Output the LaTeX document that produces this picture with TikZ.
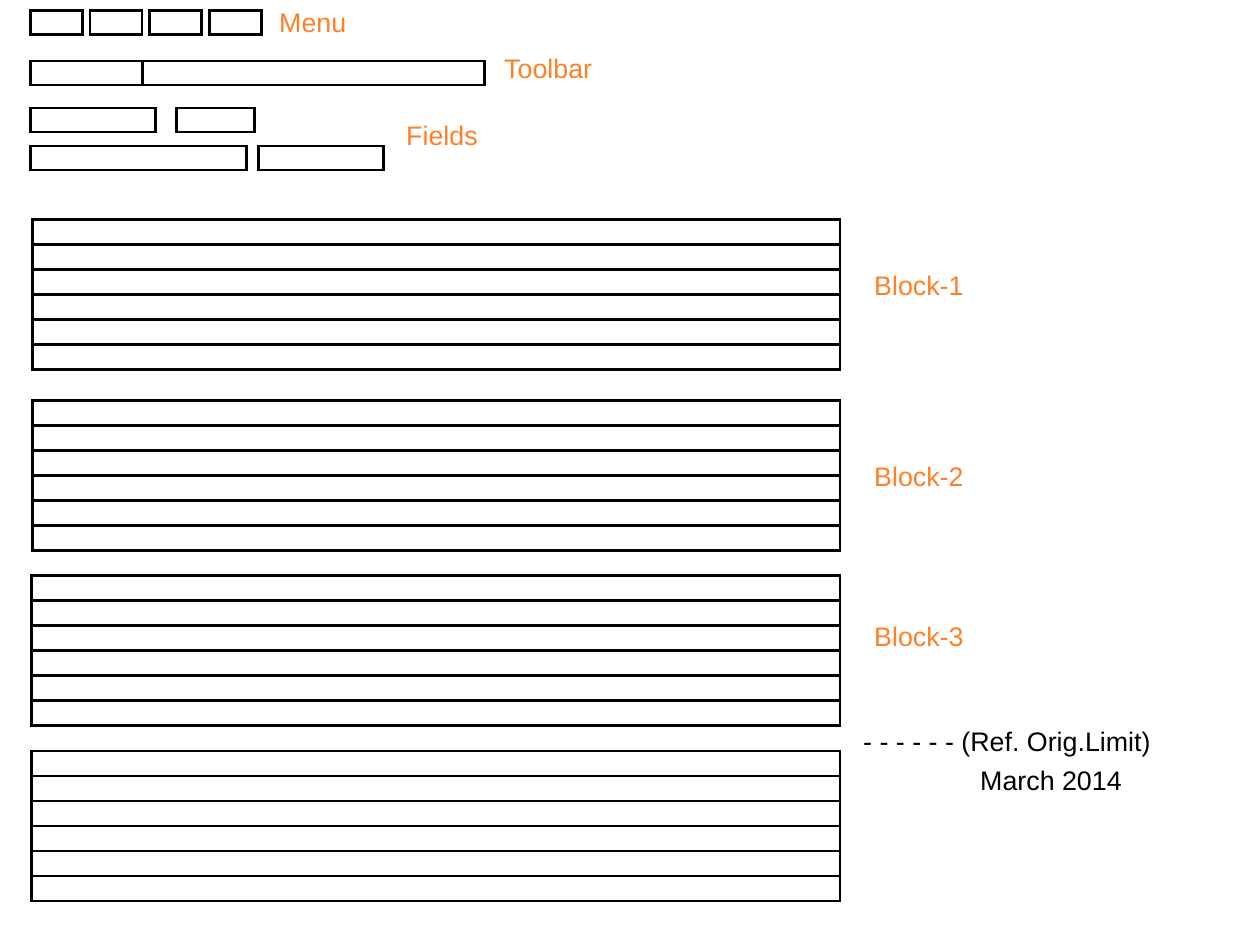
\documentclass[tikz,border=0pt]{standalone}
\usepackage{fontspec}
\setmainfont{Liberation Sans}
\definecolor{lbl}{RGB}{255,127,39}
\frenchspacing
\begin{document}
\begin{tikzpicture}[x=1pt,y=-1pt,
  box/.style={draw=black,line width=2.8pt},
  olabel/.style={anchor=base west,inner sep=0pt,text=lbl,font=\fontsize{26.8}{30}\selectfont},
  klabel/.style={anchor=base west,inner sep=0pt,text=black,font=\fontsize{26.8}{30}\selectfont}]
\useasboundingbox (0,0) rectangle (1242,952);
% Menu
\draw[box] (30.5,10.5) rectangle (82.5,34.5);
\draw[box] (90,10.5) rectangle (142,34.5);
\draw[box] (149.5,10.5) rectangle (201.5,34.5);
\draw[box] (209.5,10.5) rectangle (261.5,34.5);
\node[olabel] (menu) at (279,33) {Menu};
% Toolbar
\draw[box] (30.5,61) rectangle (484.5,85);
\draw[box] (142.5,61) -- (142.5,85);
\node[olabel] (toolbar) at (504,78.5) {Toolbar};
% Fields
\draw[box] (30.5,108) rectangle (155.5,132);
\draw[box] (176.5,108) rectangle (254.5,132);
\draw[box] (30.5,146) rectangle (246.5,170);
\draw[box] (258.5,146) rectangle (383.5,170);
\node[olabel] (fields) at (406,146) {Fields};
% Blocks
\foreach \x/\y in {32.5/219.5, 32.5/400.5, 31.5/575.5, 31.5/751} {
  \draw[box] (\x,\y) rectangle (840,\y+150);
  \foreach \k in {1,...,5} { \draw[box] (\x,\y+25*\k) -- (840,\y+25*\k); }
}
\node[olabel] (b1) at (874,295) {Block-1};
\node[olabel] (b2) at (874,486) {Block-2};
\node[olabel] (b3) at (874,646) {Block-3};
\node[klabel] (ref) at (863,751.5) {- - - - - - (Ref. Orig.Limit)};
\node[klabel] (date) at (980,790) {March 2014};
\end{tikzpicture}
\end{document}
